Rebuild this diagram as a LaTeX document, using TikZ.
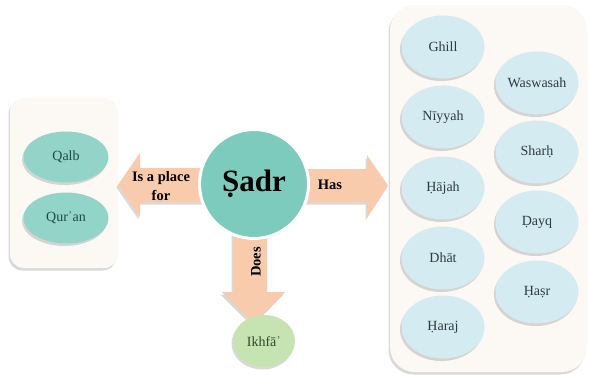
\documentclass[tikz,border=0pt]{standalone}
\usepackage{fontspec}
\setmainfont{Liberation Serif}
\usetikzlibrary{shapes.geometric,shadows}

\definecolor{panelfill}{HTML}{FCF8F3}
\definecolor{arrowfill}{HTML}{F8CBAD}
\definecolor{hubfill}{HTML}{7CCBBC}
\definecolor{tealfill}{HTML}{93D4C8}
\definecolor{bluefill}{HTML}{D3EBF1}
\definecolor{greenfill}{HTML}{C6E3B2}
\definecolor{tealtext}{HTML}{1E4B45}
\definecolor{bluetext}{HTML}{2E3B3F}
\definecolor{greentext}{HTML}{2C4A27}

\tikzset{
  softshadow/.style={drop shadow={opacity=0.3, shadow xshift=-1.5pt, shadow yshift=-2.5pt}},
  panel/.style={rectangle, fill=panelfill, softshadow, inner sep=0pt},
  oval/.style={ellipse, inner sep=0pt, softshadow, font=\fontsize{14}{16}\selectfont},
  tealoval/.style={oval, fill=tealfill, text=tealtext, minimum width=85pt, minimum height=51pt},
  blueoval/.style={oval, fill=bluefill, text=bluetext, minimum width=83pt, minimum height=63pt},
  greenoval/.style={oval, fill=greenfill, text=greentext, minimum width=62pt, minimum height=52pt},
  hub/.style={circle, fill=hubfill, draw=white, line width=3pt, minimum size=109pt, inner sep=0pt,
    drop shadow={opacity=0.35, shadow xshift=0pt, shadow yshift=-1.5pt},
    font=\fontsize{31}{35}\selectfont\bfseries},
  bigarrow/.style={fill=arrowfill, softshadow},
  arrowlabel/.style={font=\fontsize{14.5}{19}\selectfont\bfseries, align=center, inner sep=0pt}
}

\begin{document}
\begin{tikzpicture}[x=1pt, y=-1pt]
\useasboundingbox (0,0) rectangle (589,381);

% group panels
\node[panel, rounded corners=14pt, minimum width=108pt, minimum height=170pt] (leftpanel) at (64,183) {};
\node[panel, rounded corners=25pt, minimum width=197pt, minimum height=367pt] (rightpanel) at (488.5,188.5) {};

% block arrows leaving the hub
\path[bigarrow] (215,168) -- (140,168) -- (140,153) -- (118,185) -- (140,217) -- (140,202) -- (215,202) -- cycle;
\path[bigarrow] (290,169) -- (367,169) -- (367,155) -- (388,185.5) -- (367,218) -- (367,202) -- (290,202) -- cycle;
\path[bigarrow] (233,225) -- (233,292) -- (222,292) -- (254,324) -- (285,292) -- (267,292) -- (267,225) -- cycle;

% hub
\node[hub] (sadr) at (254,184) {Ṣadr};

% arrow labels
\node[arrowlabel] (placefor) at (161,186) {Is a place\\for};
\node[arrowlabel] (has) at (330,185) {Has};
\node[arrowlabel, rotate=90] (does) at (256,262) {Does};

% left group
\node[tealoval] (qalb) at (66,157) {Qalb};
\node[tealoval] (quran) at (66,218) {Qurʾan};

% lower leaf
\node[greenoval] (ikhfa) at (264,341) {Ikhfāʾ};

% right group, first column
\node[blueoval] (ghill) at (443,47) {Ghill};
\node[blueoval] (niyyah) at (443,117) {Nīyyah};
\node[blueoval] (hajah) at (443,188) {Ḥājah};
\node[blueoval] (dhat) at (443,258) {Dhāt};
\node[blueoval] (haraj) at (443,327) {Ḥaraj};

% right group, second column
\node[blueoval] (waswasah) at (537,83) {Waswasah};
\node[blueoval] (sharh) at (537,152) {Sharḥ};
\node[blueoval] (dayq) at (537,222) {Ḍayq};
\node[blueoval] (hasr) at (537,292) {Ḥaṣr};
\end{tikzpicture}
\end{document}
